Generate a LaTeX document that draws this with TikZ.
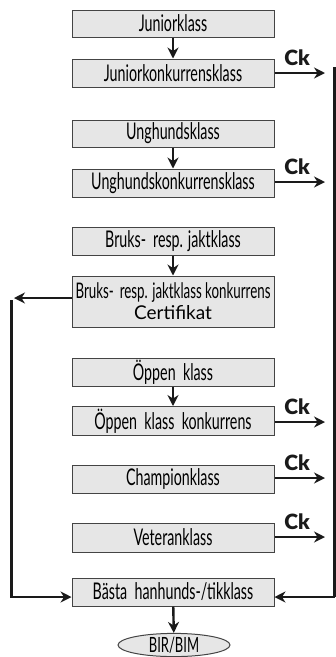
\documentclass[tikz,border=0pt]{standalone}
\usepackage{fontspec}
\setmainfont{Lato}
\newfontfamily\condfont[FakeStretch=0.62]{Lato}
\newfontfamily\ckfont{Lato Black}
\usetikzlibrary{arrows.meta,shapes.geometric}
\definecolor{boxfill}{HTML}{E6E6E6}
\definecolor{boxline}{HTML}{444444}
\definecolor{arr}{HTML}{1A1A1A}
\begin{document}
\begin{tikzpicture}[x=1pt,y=-1pt,
  klass/.style={draw=boxline,line width=1pt,fill=boxfill,minimum width=202pt,inner sep=0pt,
     font=\condfont\fontsize{23}{24}\selectfont,text=black},
  flow/.style={draw=arr,line width=2.4pt,-{Stealth[length=11pt,width=11pt]}},
  line/.style={draw=arr,line width=2.4pt},
  ck/.style={font=\ckfont\fontsize{21}{22}\selectfont,text=arr,inner sep=0pt}]
\useasboundingbox (0,0) rectangle (336,657);
\node[klass,minimum height=27pt] (j1) at (173,23.5) {Juniorklass};
\node[klass,minimum height=28pt] (j2) at (173,73) {Juniorkonkurrensklass};
\node[klass,minimum height=27pt] (u1) at (173,133.5) {Unghundsklass};
\node[klass,minimum height=28pt] (u2) at (173,183) {Unghundskonkurrensklass};
\node[klass,minimum height=28pt] (b1) at (173,241) {Bruks-\hspace{7pt}resp. jaktklass};
\node[klass,minimum height=51pt,align=center] (b2) at (173,301.5) {{\fontsize{21.5}{22}\selectfont Bruks-\hspace{6pt}resp. jaktklass konkurrens}\\[-3pt]{\rmfamily\fontsize{19}{20}\selectfont Certifikat}};
\node[klass,minimum height=28pt] (o1) at (173,372) {Öppen\ \ klass};
\node[klass,minimum height=29pt] (o2) at (173,421) {Öppen\ \ klass\ \ konkurrens};
\node[klass,minimum height=28pt] (c1) at (173,479) {Championklass};
\node[klass,minimum height=29pt] (v1) at (173,537.5) {Veteranklass};
\node[klass,minimum height=28pt] (best) at (173,592) {Bästa\ \ hanhunds-/tikklass};
\node[draw=boxline,line width=1pt,fill=boxfill,ellipse,minimum width=112pt,minimum height=22pt,inner sep=0pt,
  font=\condfont\fontsize{21}{22}\selectfont] (bir) at (174,645) {BIR/BIM};
\draw[flow] (j1) -- (j2);
\draw[flow] (u1) -- (u2);
\draw[flow] (b1) -- (b2);
\draw[flow] (o1) -- (o2);
\draw[flow] (best) -- (bir);
% Ck arrows
\foreach \n/\yy in {j2/73,u2/182,o2/422,c1/478,v1/537}{
  \coordinate (e\n) at (325,\yy);
  \draw[flow] (\n.east |- e\n) -- (e\n);
  \node[ck,anchor=base] at (297,\yy-8) {Ck};
}
% right collector
\coordinate (rt) at (334.5,67);
\coordinate (rb) at (334.5,597);
\draw[line] (rt) -- (rb);
\draw[flow] ([yshift=0pt]rb) -- (best.east |- rb);
% left collector
\coordinate (la) at (14,298);
\coordinate (lt) at (11.5,300);
\coordinate (lb) at (11.5,597);
\draw[flow] (b2.west |- la) -- (la);
\draw[line] (lt) -- (lb);
\draw[flow] ([xshift=-1.2pt]lb) -- (best.west |- lb);
\end{tikzpicture}
\end{document}
